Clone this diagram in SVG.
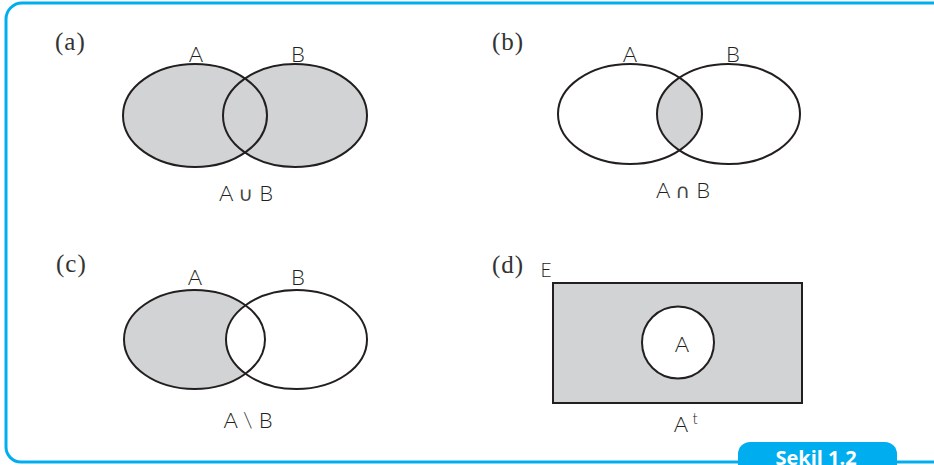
<svg xmlns="http://www.w3.org/2000/svg" width="934" height="465" viewBox="0 0 934 465">
<style>
.frame{fill:none;stroke:#00AEEF;stroke-width:3}
.set{stroke:#231F20;stroke-width:2}
.g{fill:#D1D3D4}
.w{fill:#FFFFFF}
.o{fill:none}
.lbl{font-family:"Lato","Liberation Sans",sans-serif;font-weight:300;font-size:22px;fill:#231F20;text-anchor:middle}
.op{font-family:"DejaVu Sans ExtraLight","DejaVu Sans",sans-serif;font-weight:normal;font-size:20px;fill:#444444}
.tag{font-family:"Liberation Serif",serif;font-size:25px;fill:#333333;letter-spacing:1px}
.cap{font-family:"Open Sans","Liberation Sans",sans-serif;font-weight:bold;font-size:20px;fill:#FFFFFF;text-anchor:middle}
</style>
<defs>
<clipPath id="clipB"><ellipse cx="728.5" cy="114" rx="71.5" ry="50"/></clipPath>
</defs>
<rect width="934" height="465" fill="#FFFFFF"/>
<path class="frame" d="M934 3 H22 A16 16 0 0 0 6 19 V447 A15 15 0 0 0 21 462 H934"/>
<g id="tab">
<path d="M738 466 V454 A12 12 0 0 1 750 442 H885 A12 12 0 0 1 897 454 V466 Z" fill="#00AEEF"/>
<text class="cap" x="816" y="465">Sekil 1.2</text>
</g>
<g id="panel-a">
<text class="tag" x="55" y="50">(a)</text>
<ellipse class="g" cx="195" cy="115.5" rx="72" ry="51.5"/>
<ellipse class="g" cx="295" cy="115.5" rx="72" ry="51.5"/>
<ellipse class="set o" cx="195" cy="115.5" rx="72" ry="51.5"/>
<ellipse class="set o" cx="295" cy="115.5" rx="72" ry="51.5"/>
<text class="lbl" x="196" y="62">A</text>
<text class="lbl" x="298" y="62">B</text>
<text class="lbl" x="246" y="201">A <tspan class="op">∪</tspan> B</text>
</g>
<g id="panel-b">
<text class="tag" x="492" y="50">(b)</text>
<ellipse class="g" cx="630" cy="114" rx="72" ry="50" clip-path="url(#clipB)"/>
<ellipse class="set o" cx="630" cy="114" rx="72" ry="50"/>
<ellipse class="set o" cx="728.5" cy="114" rx="71.5" ry="50"/>
<text class="lbl" x="630" y="62">A</text>
<text class="lbl" x="733" y="62">B</text>
<text class="lbl" x="683" y="198">A <tspan class="op">∩</tspan> B</text>
</g>
<g id="panel-c">
<text class="tag" x="56" y="272">(c)</text>
<ellipse class="g" cx="194.5" cy="339.5" rx="70.5" ry="49.5"/>
<ellipse class="w" cx="296.5" cy="339.5" rx="70.5" ry="49.5"/>
<ellipse class="set o" cx="194.5" cy="339.5" rx="70.5" ry="49.5"/>
<ellipse class="set o" cx="296.5" cy="339.5" rx="70.5" ry="49.5"/>
<text class="lbl" x="195" y="285">A</text>
<text class="lbl" x="298" y="285">B</text>
<text class="lbl" x="248" y="428">A \ B</text>
</g>
<g id="panel-d">
<text class="tag" x="492" y="273">(d)</text>
<text class="lbl" x="546" y="277" style="font-size:19px">E</text>
<rect class="set g" x="553" y="283" width="249" height="120"/>
<circle class="set w" cx="678" cy="342.5" r="36"/>
<text class="lbl" x="682" y="352">A</text>
<text class="lbl" x="681" y="432">A</text>
<text class="lbl" x="695" y="424" style="font-size:15px">t</text>
</g>
</svg>
